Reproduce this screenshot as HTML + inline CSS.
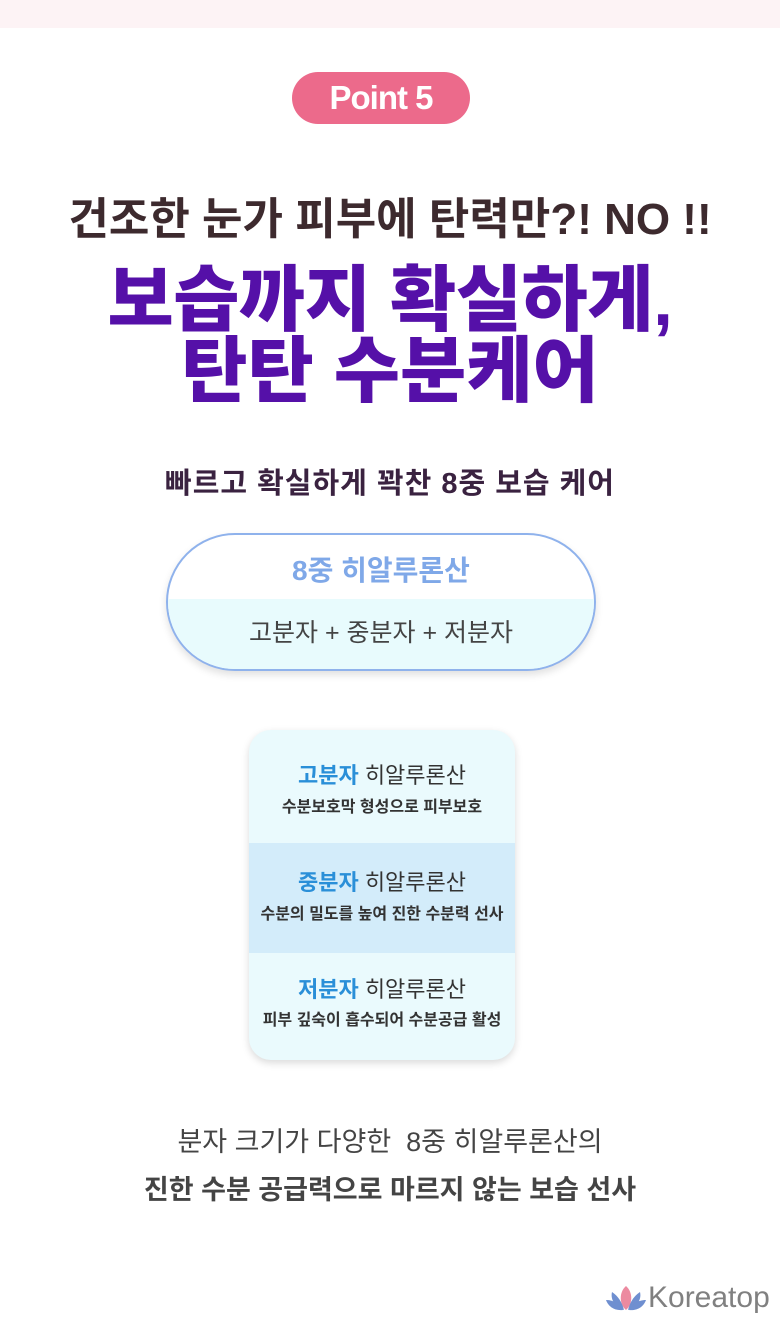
<!DOCTYPE html>
<html><head><meta charset="utf-8"><style>
*{margin:0;padding:0;box-sizing:border-box}
body{width:780px;height:1324px;background:#fff;position:relative;overflow:hidden;font-family:"Liberation Sans","Noto Sans CJK KR",sans-serif}
.c{position:absolute;left:0;width:780px;text-align:center;white-space:nowrap}
.k{position:absolute;left:0;width:764px;text-align:center;white-space:nowrap}
</style></head><body>
<div style="position:absolute;left:0;top:0;width:780px;height:28px;background:#fdf3f5"></div>
<div style="position:absolute;left:292px;top:72px;width:178px;height:52px;border-radius:26px;background:#ec6a8b;color:#fff;font-weight:bold;font-size:33px;line-height:52px;text-align:center;letter-spacing:-1px">Point 5</div>
<div class="c" style="top:192px;font-size:44px;line-height:56px;font-weight:bold;color:#3d2a2e;letter-spacing:0px">건조한 눈가 피부에 탄력만?! NO !!</div>
<div class="c" style="top:260px;font-size:72px;line-height:82px;font-weight:900;color:#5510a8;letter-spacing:-0.5px">보습까지 확실하게,</div>
<div class="c" style="top:331px;font-size:72px;line-height:82px;font-weight:900;color:#5510a8;letter-spacing:0px">탄탄 수분케어</div>
<div class="c" style="top:465px;font-size:29px;line-height:38px;font-weight:bold;color:#3a2240;letter-spacing:1px">빠르고 확실하게 꽉찬 8중 보습 케어</div>
<div style="position:absolute;left:166px;top:533px;width:430px;height:138px;border:2px solid #8fb2ec;border-radius:69px;overflow:hidden;background:#fff;box-shadow:0 4px 8px rgba(0,0,0,0.12)">
<div style="position:absolute;left:0;top:64px;width:100%;height:80px;background:#e8fbfd"></div>
<div style="position:absolute;left:0;top:17px;width:100%;text-align:center;font-size:28px;font-weight:bold;color:#7fa8e8;line-height:38px">8중 히알루론산</div>
<div style="position:absolute;left:0;top:81px;width:100%;text-align:center;font-size:25px;color:#444;line-height:34px">고분자 + 중분자 + 저분자</div>
</div>
<div style="position:absolute;left:249px;top:730px;width:266px;height:330px;border-radius:22px;overflow:hidden;background:#eafafd;box-shadow:0 3px 8px rgba(0,0,0,0.15)">
<div style="position:absolute;left:0;top:113px;width:100%;height:110px;background:#d3ecfa"></div>
</div>
<div class="k" style="top:761px;font-size:22px;line-height:30px;color:#333"><b style="color:#2a8fd8">고분자</b> 히알루론산</div>
<div class="k" style="top:797px;font-size:16px;line-height:22px;font-weight:bold;color:#333">수분보호막 형성으로 피부보호</div>
<div class="k" style="top:868px;font-size:22px;line-height:30px;color:#333"><b style="color:#2a8fd8">중분자</b> 히알루론산</div>
<div class="k" style="top:904px;font-size:16px;line-height:22px;font-weight:bold;color:#333">수분의 밀도를 높여 진한 수분력 선사</div>
<div class="k" style="top:975px;font-size:22px;line-height:30px;color:#333"><b style="color:#2a8fd8">저분자</b> 히알루론산</div>
<div class="k" style="top:1010px;font-size:16px;line-height:22px;font-weight:bold;color:#333">피부 깊숙이 흡수되어 수분공급 활성</div>
<div class="c" style="top:1124px;font-size:27px;line-height:36px;color:#444;letter-spacing:0px">분자 크기가 다양한 &nbsp;8중 히알루론산의</div>
<div class="c" style="top:1172px;font-size:27px;line-height:36px;font-weight:bold;color:#444;letter-spacing:0px">진한 수분 공급력으로 마르지 않는 보습 선사</div>
<svg style="position:absolute;left:606px;top:1284px" width="40" height="28" viewBox="0 0 40 28">
<path d="M20 2 C13 8 13 20 20 26 C27 20 27 8 20 2Z" fill="#ec8aa0"/>
<path d="M18 26 C10 24 4 16 6 8 C12 12 16 18 18 26Z" fill="#6f8fd0"/>
<path d="M22 26 C30 24 36 16 34 8 C28 12 24 18 22 26Z" fill="#6f8fd0"/>
<path d="M17 26 C8 27 2 22 0 16 C8 16 14 20 17 26Z" fill="#6f8fd0"/>
<path d="M23 26 C32 27 38 22 40 16 C32 16 26 20 23 26Z" fill="#6f8fd0"/>
</svg>
<div style="position:absolute;left:648px;top:1280px;font-size:30px;line-height:36px;color:#808080">Koreatop</div>
</body></html>
